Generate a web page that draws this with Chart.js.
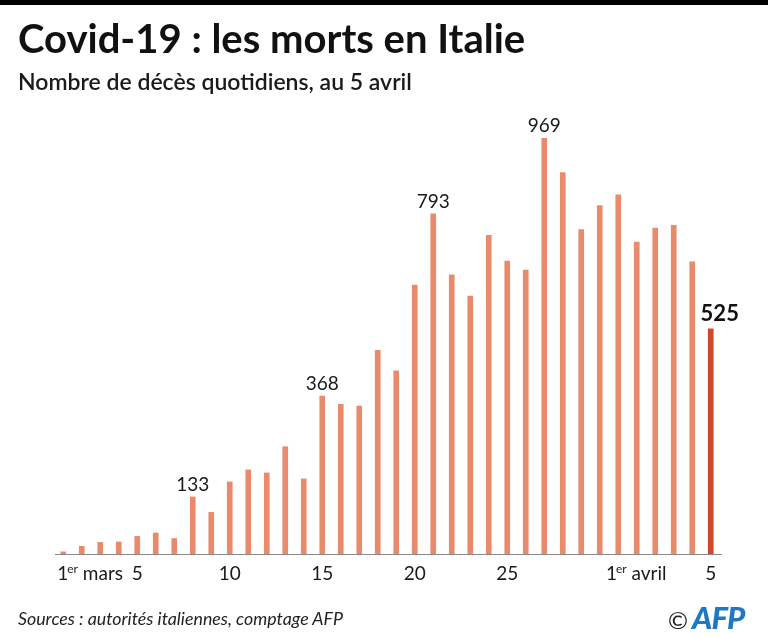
<!DOCTYPE html>
<html>
<head>
<meta charset="utf-8">
<script src="https://cdn.jsdelivr.net/npm/chart.js@4"></script>
<style>
  html, body { margin: 0; padding: 0; background: #fff; }
  #cadre { position: relative; width: 768px; height: 638px; overflow: hidden; font-family: Lato, sans-serif; }
  #bande { position: absolute; left: 0; top: 0; width: 768px; height: 5px; background: #000; }
  #titre { position: absolute; left: 18px; top: 14px; font-size: 40px; font-weight: 700; color: #111; white-space: nowrap; }
  #soustitre { position: absolute; left: 18px; top: 67px; font-size: 23px; font-weight: 600; color: #1a1a1a; white-space: nowrap; }
  #source { position: absolute; left: 18px; top: 607px; font-size: 17.8px; font-style: italic; color: #222; white-space: nowrap; }
  #logo { position: absolute; left: 668px; top: 598px; white-space: nowrap; }
  #logo .c { font-size: 24px; color: #222; }
  #logo .afp { font-size: 31px; font-weight: 900; font-style: italic; color: #1f78c1; letter-spacing: -1px; }
  canvas { position: absolute; left: 0; top: 0; }
</style>
</head>
<body>
<div id="cadre">
  <canvas id="graphique" width="768" height="638"></canvas>
  <div id="bande"></div>
  <div id="titre">Covid-19 : les morts en Italie</div>
  <div id="soustitre">Nombre de décès quotidiens, au 5 avril</div>
  <div id="source">Sources : autorités italiennes, comptage AFP</div>
  <div id="logo"><span class="c">©</span> <span class="afp">AFP</span></div>
</div>
<script>
// jours du 1er mars au 5 avril
const jours = ['1','2','3','4','5','6','7','8','9','10','11','12','13','14','15','16','17','18','19','20',
  '21','22','23','24','25','26','27','28','29','30','31','1','2','3','4','5'];
const deces = [5, 18, 27, 28, 41, 49, 36, 133, 97, 168, 196, 189, 250, 175, 368, 349, 345, 475, 427, 627,
  793, 651, 601, 743, 683, 662, 969, 889, 756, 812, 837, 727, 760, 766, 681, 525];

// étiquettes de l'axe : index du jour, texte avant l'exposant, exposant, texte après
const graduations = [0, 4, 9, 14, 19, 24, 31, 35];
const textesGrad = [['1', 'er', ' mars'], ['5'], ['10'], ['15'], ['20'], ['25'], ['1', 'er', ' avril'], ['5']];
const valeursAffichees = [7, 14, 20, 26, 35];

const couleurs = deces.map((v, i) => i === deces.length - 1 ? '#d3482c' : '#e98a6b');

const decor = {
  id: 'decor',
  afterDatasetsDraw(chart) {
    const ctx = chart.ctx;
    const x = chart.scales.x;
    const y = chart.scales.y;
    const bas = y.getPixelForValue(0);

    // ligne de base
    ctx.save();
    ctx.strokeStyle = '#888';
    ctx.lineWidth = 1.2;
    ctx.beginPath();
    ctx.moveTo(55, bas + 0.5);
    ctx.lineTo(722, bas + 0.5);
    ctx.stroke();

    // graduations
    ctx.fillStyle = '#1a1a1a';
    ctx.textBaseline = 'alphabetic';
    graduations.forEach((idx, k) => {
      const morceaux = textesGrad[k];
      const px = x.getPixelForValue(idx);
      const yTexte = bas + 26;
      if (morceaux.length === 1) {
        ctx.font = '19px Lato';
        ctx.textAlign = 'center';
        ctx.fillText(morceaux[0], px, yTexte);
      } else {
        ctx.textAlign = 'left';
        ctx.font = '19px Lato';
        const w1 = ctx.measureText(morceaux[0]).width;
        ctx.font = '12px Lato';
        const w2 = ctx.measureText(morceaux[1]).width;
        ctx.font = '19px Lato';
        const w3 = ctx.measureText(morceaux[2]).width;
        let x0 = idx === 0 ? px - 6 : px - (w1 + w2 + w3) / 2;
        ctx.fillText(morceaux[0], x0, yTexte);
        ctx.font = '12px Lato';
        ctx.fillText(morceaux[1], x0 + w1 - 1, yTexte - 7);
        ctx.font = '19px Lato';
        ctx.fillText(morceaux[2], x0 + w1 + w2 - 1, yTexte);
      }
    });

    // valeurs au-dessus des barres
    valeursAffichees.forEach(idx => {
      const px = x.getPixelForValue(idx);
      const py = y.getPixelForValue(deces[idx]);
      ctx.textAlign = 'center';
      if (idx === deces.length - 1) {
        ctx.font = 'bold 22px Lato';
        ctx.fillStyle = '#111';
        ctx.fillText(String(deces[idx]), px + 9, py - 8);
      } else {
        ctx.font = '19px Lato';
        ctx.fillStyle = '#1a1a1a';
        ctx.fillText(String(deces[idx]), px, py - 6);
      }
    });
    ctx.restore();
  }
};

new Chart(document.getElementById('graphique'), {
  type: 'bar',
  data: {
    labels: jours,
    datasets: [{
      data: deces,
      backgroundColor: couleurs,
      barThickness: 5
    }]
  },
  options: {
    responsive: false,
    animation: false,
    layout: { padding: { left: 54, right: 48, top: 125, bottom: 84 } },
    plugins: { legend: { display: false }, tooltip: { enabled: false } },
    scales: {
      x: { display: false, offset: true },
      y: { display: false, min: 0, max: 1000 }
    }
  },
  plugins: [decor]
});
</script>
</body>
</html>
